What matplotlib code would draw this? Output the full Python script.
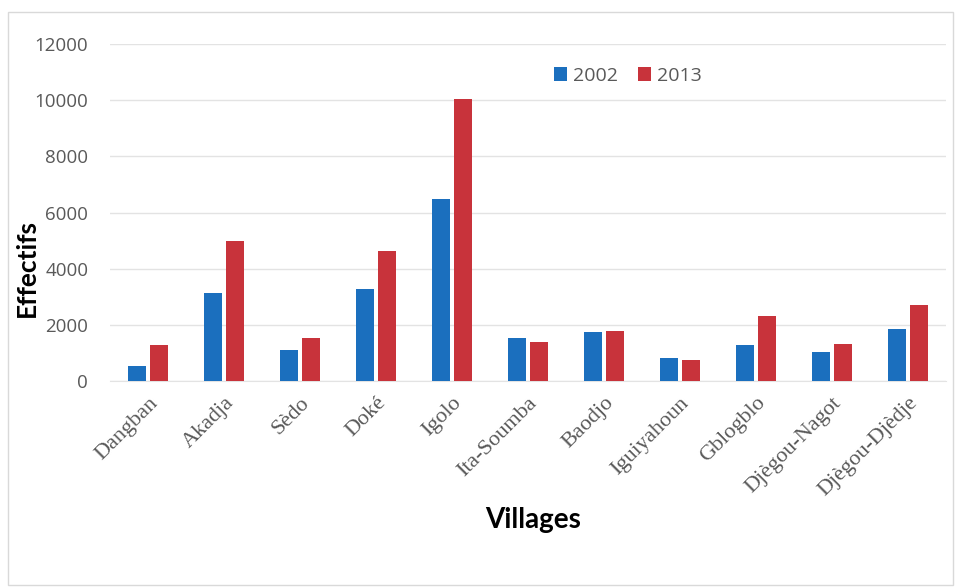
import numpy as np
import matplotlib
matplotlib.use("Agg")
import matplotlib.pyplot as plt
from matplotlib.patches import Rectangle

villages = ["Dangban", "Akadja", "Sèdo", "Doké", "Igolo", "Ita-Soumba", "Baodjo",
            "Iguiyahoun", "Gblogblo", "Djègou-Nagot", "Djègou-Djèdje"]
y2002 = [530, 3150, 1100, 3260, 6490, 1550, 1760, 810, 1290, 1020, 1840]
y2013 = [1280, 5000, 1550, 4630, 10050, 1380, 1790, 750, 2300, 1310, 2710]
years = ["2002", "2013"]

BLUE, RED = "#1b6fbe", "#c8333b"
GREY = "#595959"

fig = plt.figure(figsize=(9.6, 5.88), dpi=100)
ax = fig.add_axes([0.115, 0.352, 0.87, 0.573])
fig.patches.append(Rectangle((0.008, 0.005), 0.985, 0.975, transform=fig.transFigure,
                             fill=False, ec="#d9d9d9", lw=1))

x = np.arange(len(villages))
w = 0.24
ax.bar(x - w / 2 - 0.025, y2002, w, color=BLUE, label=years[0], zorder=3)
ax.bar(x + w / 2 + 0.025, y2013, w, color=RED, label=years[1], zorder=3)

ax.set_xlim(-0.5, len(villages) - 0.5)
ax.set_ylim(0, 12000)
ax.set_yticks(np.arange(0, 12001, 2000))
ax.grid(axis="y", color="#e3e3e3", lw=1, zorder=0)
for s in ["top", "right", "left"]:
    ax.spines[s].set_visible(False)
ax.spines["bottom"].set_color("#e3e3e3")
ax.tick_params(axis="both", length=0)
ax.tick_params(axis="y", labelsize=13.5, labelcolor=GREY, pad=16)
for t in ax.get_yticklabels():
    t.set_family("Open Sans")

ax.set_xticks(x)
ax.set_xticklabels(villages, rotation=45, ha="right", rotation_mode="anchor",
                   family="Liberation Serif", fontsize=16, color=GREY)
ax.tick_params(axis="x", pad=9)

fig.text(0.028, 0.545, "Effectifs", rotation=90, ha="center", va="center",
         fontsize=19, fontweight="bold", family="Lato")
fig.text(0.555, 0.115, "Villages", ha="center", va="center",
         fontsize=20, fontweight="bold", family="Lato")

leg = ax.legend(loc="upper left", bbox_to_anchor=(0.51, 0.985), ncol=2, frameon=False,
                handlelength=0.7, handleheight=0.7, handletextpad=0.3, columnspacing=1.0,
                prop={"family": "Open Sans", "size": 14})
for t in leg.get_texts():
    t.set_color(GREY)

fig.savefig("out.png", dpi=100)
